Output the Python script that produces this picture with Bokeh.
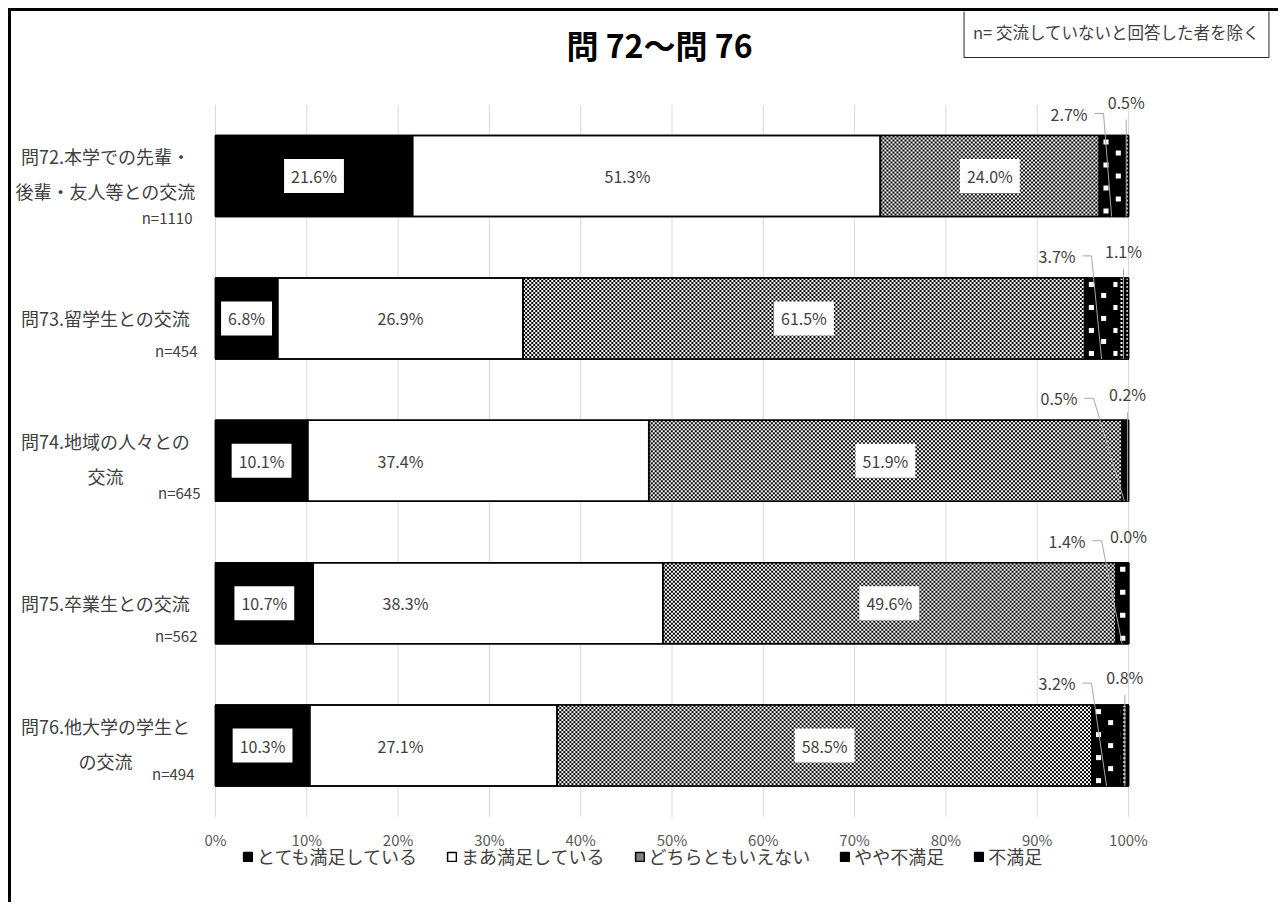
import numpy as np
from bokeh.plotting import figure
from bokeh.models import Range1d, FixedTicker, ColumnDataSource, Legend, LegendItem
from bokeh.embed import file_html
from bokeh.resources import INLINE
from bokeh.core.properties import value

FONT = "Noto Sans CJK JP"

# ---------------- data ----------------
title_text = "問 72～問 76"
note_text = "n= 交流していないと回答した者を除く"
label_lines = [
    ["問72.本学での先輩・", "後輩・友人等との交流"],
    ["問73.留学生との交流"],
    ["問74.地域の人々との", "交流"],
    ["問75.卒業生との交流"],
    ["問76.他大学の学生と", "の交流"],
]
n_labels = ["n=1110", "n=454", "n=645", "n=562", "n=494"]
series_names = ["とても満足している", "まあ満足している", "どちらともいえない", "やや不満足", "不満足"]
very_satisfied = [21.6, 6.8, 10.1, 10.7, 10.3]
fairly_satisfied = [51.3, 26.9, 37.4, 38.3, 27.1]
neutral = [24.0, 61.5, 51.9, 49.6, 58.5]
somewhat_dissatisfied = [2.7, 3.7, 0.5, 1.4, 3.2]
dissatisfied = [0.5, 1.1, 0.2, 0.0, 0.8]
tick_values = [0, 10, 20, 30, 40, 50, 60, 70, 80, 90, 100]
tick_labels = ["0%", "10%", "20%", "30%", "40%", "50%", "60%", "70%", "80%", "90%", "100%"]

# ---------------- label placement (layout only, page pixels) ----------------
fairly_label_px = [627, 400, 400, 405, 400]
seg4_label_right_px = [1087, 1075, 1077, 1085, 1075]
seg5_label_dy = [34, 27, 26, 27, 28]
two_line_dy = [-20, 15]
n_dy = [41, 32, 32, 32, 28]
n_right_px = [192, 197, 200, 197, 194]

# ---------------- geometry ----------------
W, H = 1270, 894
ORG = 11                       # canvas origin on the page (8px margin + 3px border)
PLOT_L, PLOT_R = 215, 1128     # page px of 0% and 100%
ROW0, ROW_STEP = 175.5, 142.4  # page px of first row centre and row pitch
XPPU = (PLOT_R - PLOT_L) / 100.0
YPPU = ROW_STEP
BAR_PX = 81
BAR_H = BAR_PX / ROW_STEP


def X(px):
    return (px - PLOT_L) / XPPU


def Y(py):
    return (py - ROW0) / YPPU


rows = list(range(5))
series = [very_satisfied, fairly_satisfied, neutral, somewhat_dissatisfied, dissatisfied]
totals = [sum(s[i] for s in series) for i in rows]
norm = [[s[i] / totals[i] * 100 for i in rows] for s in series]
lefts, rights = [], []
acc = [0.0] * 5
for s in norm:
    lefts.append(acc[:])
    acc = [acc[i] + s[i] for i in rows]
    rights.append(acc[:])
bar_top = [i - BAR_H / 2 for i in rows]
bar_bot = [i + BAR_H / 2 for i in rows]

p = figure(width=W, height=H, output_backend="svg", toolbar_location=None,
           x_range=Range1d(X(ORG), X(ORG + W)), y_range=Range1d(Y(ORG + H), Y(ORG)),
           y_axis_location=None, min_border=0)
p.styles = {"margin-left": "8px", "margin-top": "8px",
            "border-left": "3px solid black", "border-top": "3px solid black"}
p.title.visible = False
p.outline_line_color = None
p.background_fill_color = "white"
p.border_fill_color = "white"
p.xgrid.visible = False
p.ygrid.visible = False

ax = p.xaxis[0]
ax.fixed_location = 4.5
ax.ticker = FixedTicker(ticks=tick_values)
ax.major_label_overrides = {t: l for t, l in zip(tick_values, tick_labels)}
ax.axis_line_color = None
ax.major_tick_line_color = None
ax.minor_tick_line_color = None
ax.major_label_standoff = 6
ax.major_label_text_font = FONT
ax.major_label_text_font_size = "15px"
ax.major_label_text_color = "#595959"

# vertical gridlines over the plot area
p.segment(x0=tick_values, x1=tick_values, y0=[-0.5] * len(tick_values), y1=[4.5] * len(tick_values),
          line_color="#d9d9d9", line_width=1)

# ---------------- bars ----------------
fills = ["black", "white", "#7f7f7f", "black", "black"]
renderers = []
for k in range(5):
    src = ColumnDataSource(dict(y=rows, left=lefts[k], right=rights[k]))
    r = p.hbar(y="y", left="left", right="right", height=BAR_H, source=src,
               fill_color=fills[k], line_color="black", line_width=1.5)
    renderers.append(r)

# fill textures (Excel-like patterns) for segments 3-5
BLACK = np.uint32(0xFF000000)
WHITE = np.uint32(0xFFFFFFFF)


def texture(kind, nx, ny):
    iy, ix = np.mgrid[0:ny, 0:nx]
    if kind == "checker":
        mask = ((ix // 2 + iy // 2) % 2) == 1
    elif kind == "squares":
        tx, ty = ix % 24, iy % 23
        mask = ((tx >= 4) & (tx < 9) & (ty >= 4) & (ty < 9)) | ((tx >= 16) & (tx < 21) & (ty >= 15) & (ty < 20))
    else:
        mask = ((ix % 6) >= 2) & ((ix % 6) < 4) & ((iy % 4) < 2)
    img = np.where(mask, WHITE, BLACK).astype(np.uint32)
    return img


for k, kind in [(2, "checker"), (3, "squares"), (4, "dashes")]:
    for i in rows:
        wdata = rights[k][i] - lefts[k][i]
        nx = int(round(wdata * XPPU))
        if nx < 1:
            continue
        img = texture(kind, nx, BAR_PX)
        p.image_rgba(image=[img], x=lefts[k][i], y=bar_top[i], dw=wdata, dh=BAR_H)

# outlines on top of textures
for k in range(5):
    src = ColumnDataSource(dict(y=rows, left=lefts[k], right=rights[k]))
    p.hbar(y="y", left="left", right="right", height=BAR_H, source=src,
           fill_alpha=0, line_color="black", line_width=1.5)

TXT = dict(text_font=value(FONT), text_color="#404040", text_baseline="middle")

# in-bar labels
for k in range(3):
    if k == 1:
        xs = [X(v) for v in fairly_label_px]
    else:
        xs = [(lefts[k][i] + rights[k][i]) / 2 for i in rows]
    src = ColumnDataSource(dict(x=xs, y=rows, t=[f"{v:.1f}%" for v in series[k]]))
    p.text(x="x", y="y", text="t", source=src, text_align="center", text_font_size="16px",
           background_fill_color="white", padding=(7, 5), **TXT)

# small-segment labels above bars, with leader lines
c4 = [(lefts[3][i] + rights[3][i]) / 2 for i in rows]
c5 = [(lefts[4][i] + rights[4][i]) / 2 for i in rows]
y4 = [bar_top[i] - 22 / YPPU for i in rows]
y5 = [bar_top[i] - seg5_label_dy[i] / YPPU for i in rows]
src4 = ColumnDataSource(dict(x=[X(v) for v in seg4_label_right_px], y=y4,
                             t=[f"{v:.1f}%" for v in somewhat_dissatisfied]))
p.text(x="x", y="y", text="t", source=src4, text_align="right", text_font_size="16px", **TXT)
src5 = ColumnDataSource(dict(x=c5, y=y5, t=[f"{v:.1f}%" for v in dissatisfied]))
p.text(x="x", y="y", text="t", source=src5, text_align="center", text_font_size="16px", **TXT)

lx, ly = [], []
for i in rows:
    xr = X(seg4_label_right_px[i])
    lx.append([xr + 7 / XPPU, xr + 16 / XPPU, c4[i]])
    ly.append([y4[i], y4[i], bar_bot[i]])
    if dissatisfied[i] > 0:
        lx.append([c5[i], c5[i]])
        ly.append([y5[i] + 18 / YPPU, bar_bot[i]])
p.multi_line(xs=lx, ys=ly, line_color="#a6a6a6", line_width=1)

# category labels
cx, cy, ct = [], [], []
for i in rows:
    lines = label_lines[i]
    for j, line in enumerate(lines):
        dy = 0 if len(lines) == 1 else two_line_dy[j]
        cx.append(X(105))
        cy.append(i + dy / YPPU)
        ct.append(line)
p.text(x=cx, y=cy, text=ct, text_align="center", text_font_size="18px", **TXT)
p.text(x=[X(v) for v in n_right_px], y=[i + n_dy[i] / YPPU for i in rows], text=n_labels,
       text_align="right", text_font_size="15px", **TXT)

# title and note box
p.text(x=[X(659)], y=[Y(43)], text=[title_text], text_align="center", text_baseline="middle",
       text_font=value(FONT), text_font_size="32px", text_font_style="bold", text_color="black")
p.text(x=[X(1116)], y=[Y(31)], text=[note_text], text_align="center", text_font_size="16.5px",
       background_fill_color="white", border_line_color="#262626", border_line_width=1,
       padding=(9, 14), **TXT)

legend = Legend(items=[LegendItem(label=n, renderers=[r]) for n, r in zip(series_names, renderers)],
                orientation="horizontal", location=(242 - ORG, ORG + H - 858 - 11),
                glyph_width=11, glyph_height=11,
                label_standoff=4, spacing=29, padding=0, margin=0, border_line_color=None,
                background_fill_alpha=0, label_text_font=FONT, label_text_font_size="18px",
                label_text_color="#404040", label_height=22)
p.add_layout(legend, "center")

open("out.html", "w").write(file_html(p, INLINE))
